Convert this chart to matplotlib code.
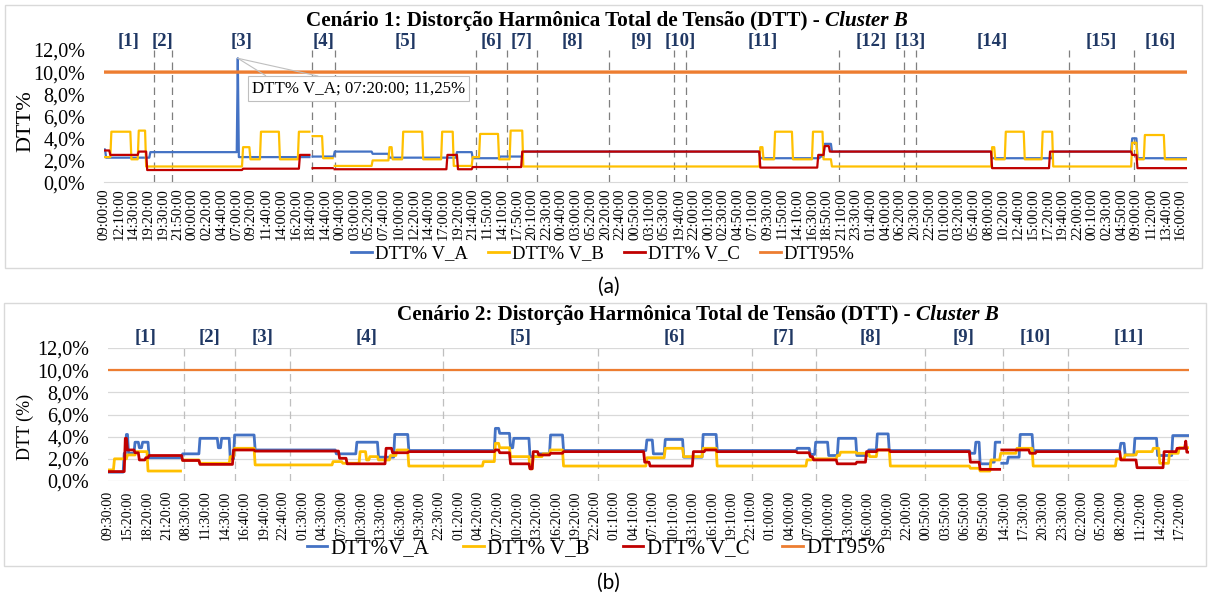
import numpy as np
import matplotlib
matplotlib.use('Agg')
import matplotlib.pyplot as plt
from matplotlib.ticker import FuncFormatter
from matplotlib.patches import Rectangle
from matplotlib.lines import Line2D
from matplotlib.transforms import blended_transform_factory

plt.rcParams['font.family'] = ['Liberation Serif', 'DejaVu Serif']

nan = np.nan

# ---------------- Cenário 1 (amostras de 10 min, degraus)
n1 = 1029
va1_ini = [0, 2, 44, 127, 128, 196, 198, 219, 255, 271, 335, 350, 376, 398, 623, 680, 684, 691, 843, 901, 976, 981]
va1_val = [3.0, 2.25, 2.75, 11.25, 2.3, nan, 2.35, 2.8, 2.6, 2.25, 2.75, 2.2, 2.35, 2.8, 2.2, 2.35, 3.5, 2.8, 2.2, 2.8, 4.0, 2.2]
vb1_ini = [0, 7, 26, 33, 40, 132, 139, 149, 167, 185, 196, 198, 208, 218, 219, 255, 271, 274, 284, 303, 321, 332,
           350, 357, 375, 386, 398, 623, 626, 637, 654, 673, 683, 691, 843, 846, 856, 874, 891, 901, 976, 981, 988, 1007]
vb1_val = [2.3, 4.6, 2.1, 4.7, 1.45, 3.2, 2.1, 4.6, 2.1, 4.6, nan, 4.2, 2.2, nan, 1.5, 2.0, 3.2, 2.1, 4.6, 2.1, 4.6, 1.5,
           2.3, 4.4, 2.1, 4.7, 1.45, 3.2, 2.1, 4.6, 2.1, 4.6, 2.1, 1.45, 3.2, 2.1, 4.6, 2.1, 4.6, 1.45, 3.6, 2.1, 4.3, 2.1]
vc1_ini = [0, 6, 33, 41, 132, 186, 196, 198, 218, 219, 326, 336, 350, 397, 623, 678, 684, 689, 843, 898, 976, 981]
vc1_val = [2.9, 2.5, 2.8, 1.13, 1.25, 2.5, nan, 1.3, nan, 1.2, 2.5, 1.2, 1.4, 2.8, 1.35, 2.5, 3.3, 2.8, 1.3, 2.8, 2.5, 1.3]
sec1 = [47.5, 64.5, 197.4, 219.3, 353, 382.5, 411, 479.3, 541, 552.4, 697.6, 759.3, 770.7, 915.9, 977.6]
ticks1 = ["09:00:00", "12:10:00", "14:30:00", "19:20:00", "19:30:00", "21:50:00", "00:00:00", "02:20:00", "04:40:00",
          "07:00:00", "09:20:00", "11:40:00", "14:00:00", "16:20:00", "18:40:00", "14:40:00", "00:40:00", "03:00:00",
          "05:20:00", "07:40:00", "10:00:00", "12:20:00", "14:40:00", "17:00:00", "19:20:00", "21:40:00", "11:50:00",
          "14:10:00", "17:50:00", "20:10:00", "22:30:00", "00:40:00", "03:00:00", "05:20:00", "20:20:00", "22:40:00",
          "00:50:00", "03:10:00", "05:30:00", "19:40:00", "22:00:00", "00:10:00", "02:30:00", "04:50:00", "07:10:00",
          "09:30:00", "11:50:00", "14:10:00", "16:30:00", "18:50:00", "21:10:00", "23:30:00", "01:40:00", "04:00:00",
          "06:20:00", "20:30:00", "22:50:00", "01:00:00", "03:20:00", "05:40:00", "08:00:00", "10:20:00", "12:40:00",
          "15:00:00", "17:20:00", "19:40:00", "22:00:00", "00:10:00", "02:30:00", "04:50:00", "09:00:00", "11:20:00",
          "13:40:00", "16:00:00"]
pico_idx = 127
pico_txt = "DTT% V_A; 07:20:00; 11,25%"

# ---------------- Cenário 2
n2 = 1000
va2_ini = [0, 15, 17, 19, 25, 29, 32, 38, 69, 85, 102, 105, 113, 117, 136, 211, 230, 250, 265, 278, 358, 362, 372, 375,
           390, 398, 409, 421, 498, 504, 515, 532, 550, 563, 637, 649, 654, 666, 675, 692, 703, 711, 722, 797, 802, 806,
           816, 820, 825, 826, 832, 843, 855, 936, 940, 949, 970, 984]
va2_val = [0.8, 2.5, 4.2, 2.5, 3.5, 3.0, 3.5, 2.1, 2.45, 3.85, 3.0, 3.85, 2.0, 4.15, 2.8, 2.45, 3.5, 2.15, 4.2, 2.75,
           4.75, 4.3, 3.0, 3.85, 2.2, 2.45, 4.15, 2.75, 3.7, 2.45, 3.75, 2.15, 4.2, 2.75, 2.95, 2.4, 3.5, 2.3, 3.85, 2.3,
           2.8, 4.25, 2.75, 2.5, 3.5, 1.55, 1.7, 3.5, nan, 1.6, 2.15, 4.2, 2.75, 3.4, 2.35, 3.85, 2.3, 4.1]
vb2_ini = [0, 6, 18, 26, 37, 68, 69, 85, 113, 117, 136, 208, 217, 233, 239, 242, 250, 261, 267, 278, 347, 358, 362, 372,
           390, 393, 402, 409, 421, 498, 515, 532, 550, 563, 646, 651, 674, 677, 692, 704, 711, 723, 797, 806, 816, 825,
           840, 855, 932, 940, 951, 966, 972, 981, 990]
vb2_val = [1.0, 2.0, 2.35, 2.65, 0.9, nan, 1.9, 1.6, 2.2, 2.95, 1.45, 1.75, 1.6, 2.65, 1.9, 2.2, 1.9, 2.3, 2.8, 1.35,
           1.75, 3.4, 3.0, 2.2, 1.1, 2.2, 2.45, 2.8, 1.35, 2.1, 2.95, 2.2, 2.95, 1.35, 1.9, 2.0, 2.3, 2.6, 2.5, 2.2,
           2.8, 1.35, 1.15, 0.9, 1.9, 2.5, 2.95, 1.35, 2.0, 2.35, 2.65, 2.95, 1.6, 2.5, 3.0]
vc2_ini = [0, 16, 18, 25, 29, 35, 38, 69, 85, 116, 136, 214, 221, 257, 263, 278, 358, 362, 372, 390, 393, 398, 409, 421,
           496, 501, 541, 552, 563, 637, 649, 652, 674, 692, 701, 711, 723, 797, 806, 825, 826, 852, 858, 936, 951, 976,
           988, 996, 997]
vc2_val = [0.85, 3.85, 2.8, 2.55, 1.9, 2.1, 2.3, 1.85, 1.5, 2.8, 2.7, 2.05, 1.55, 2.95, 2.55, 2.65, 2.8, 2.55, 1.55, 1.1,
           2.65, 2.35, 2.5, 2.65, 1.7, 1.35, 2.65, 2.8, 2.65, 2.55, 2.2, 1.9, 1.55, 1.7, 2.65, 2.8, 2.65, 1.7, 1.05, nan,
           2.8, 2.5, 2.65, 1.9, 1.2, 2.65, 2.95, 3.6, 2.6]
sec2 = [70, 117, 168, 310, 453, 595, 654, 755, 827, 887]
ticks2 = ["09:30:00", "15:20:00", "18:20:00", "21:20:00", "08:30:00", "11:30:00", "14:30:00", "16:40:00", "19:40:00",
          "22:40:00", "01:30:00", "04:30:00", "07:30:00", "10:30:00", "13:30:00", "16:30:00", "19:30:00", "22:30:00",
          "01:20:00", "04:20:00", "07:20:00", "10:20:00", "13:20:00", "16:20:00", "19:20:00", "22:20:00", "01:10:00",
          "04:10:00", "07:10:00", "10:10:00", "13:10:00", "16:10:00", "19:10:00", "22:10:00", "01:00:00", "04:00:00",
          "07:00:00", "10:00:00", "13:00:00", "16:00:00", "19:00:00", "22:00:00", "00:50:00", "03:50:00", "06:50:00",
          "09:50:00", "14:30:00", "17:30:00", "20:30:00", "23:30:00", "02:20:00", "05:20:00", "08:20:00", "11:20:00",
          "14:20:00", "17:20:00"]

limite = 10.0  # DTT95%

AZUL, AMARELO, VERMELHO, LARANJA = '#4472C4', '#FFC000', '#C00000', '#ED7D31'
NAVY = '#203864'


def degraus(ini, val, n):
    y = np.full(n, np.nan)
    fim = list(ini[1:]) + [n]
    for a, b, v in zip(ini, fim, val):
        y[a:b] = v
    return y


W, H = 1209, 601
fig = plt.figure(figsize=(W / 100, H / 100), dpi=100)
fmt = FuncFormatter(lambda v, p: f"{v:.1f}%".replace('.', ','))


def painel(rect, n, series, lw, lw95, ticks, passo, sec, cor_sec, grade, tam_tick, pad_x, y_sec):
    ax = fig.add_axes([rect[0] / W, 1 - rect[3] / H, (rect[2] - rect[0]) / W, (rect[3] - rect[1]) / H])
    x = np.arange(n)
    for b in sec:
        ax.axvline(b, color=cor_sec, lw=0.9, ls=(0, (6, 4)), zorder=1)
    for y, c in series:
        ax.plot(x, y, color=c, lw=lw, zorder=3)
    ax.plot(x, np.full(n, limite), color=LARANJA, lw=lw95, zorder=3)
    ax.set_xlim(0, n - 1)
    ax.set_ylim(0, 12)
    ax.set_yticks(np.arange(0, 13, 2))
    ax.yaxis.set_major_formatter(fmt)
    ax.set_xticks(np.arange(len(ticks)) * passo)
    ax.set_xticklabels(ticks, rotation=90, fontsize=tam_tick)
    ax.tick_params(axis='y', length=0, pad=13.5, labelsize=14.5)
    ax.tick_params(axis='x', length=0, pad=pad_x)
    for s in ax.spines.values():
        s.set_visible(False)
    if grade:
        ax.grid(axis='y', color='#D9D9D9', lw=0.9)
        ax.set_axisbelow(True)
    else:
        ax.spines['bottom'].set_visible(True)
        ax.spines['bottom'].set_color('#D9D9D9')
    lim = [0] + list(sec) + [n - 1]
    tr = blended_transform_factory(ax.transData, ax.transAxes)
    for i in range(len(lim) - 1):
        ax.text((lim[i] + lim[i + 1]) / 2, y_sec, f"[{i + 1}]", transform=tr, ha='center', va='center',
                fontsize=13.5, fontweight='bold', color=NAVY)
    return ax


ax1 = painel((104, 50, 1187, 182.5), n1,
             [(degraus(va1_ini, va1_val, n1), AZUL), (degraus(vb1_ini, vb1_val, n1), AMARELO),
              (degraus(vc1_ini, vc1_val, n1), VERMELHO)],
             1.6, 2.4, ticks1, 14, sec1, '#7F7F7F', False, 10.5, 4, 1.065)
ax2 = painel((108, 348, 1189, 481), n2,
             [(degraus(va2_ini, va2_val, n2), AZUL), (degraus(vb2_ini, vb2_val, n2), AMARELO),
              (degraus(vc2_ini, vc2_val, n2), VERMELHO)],
             2.0, 1.6, ticks2, 18, sec2, '#BFBFBF', True, 10, 7, 1.08)

# rótulo do pico (caixa + duas linhas de chamada)
xy_pico = (pico_idx, va1_val[va1_ini.index(pico_idx)])
for k, rp in enumerate([(0.1, 1.0), (0.4, 1.0)]):
    ax1.annotate(pico_txt, xy=xy_pico, xytext=(14, -30), textcoords='offset pixels', ha='left', va='center',
                 fontsize=12.2, color='black' if k == 0 else 'none',
                 bbox=dict(boxstyle='square,pad=0.25', fc='white' if k == 0 else 'none',
                           ec='#BFBFBF' if k == 0 else 'none', lw=0.8),
                 arrowprops=dict(arrowstyle='-', color='#BFBFBF', lw=0.8, relpos=rp, shrinkA=0, shrinkB=0),
                 zorder=5)

# legendas
h1 = [Line2D([], [], color=c, lw=2) for c in (AZUL, AMARELO, VERMELHO, LARANJA)]
fig.legend(h1, ['DTT% V_A', 'DTT% V_B', 'DTT% V_C', 'DTT95%'], loc='center', bbox_to_anchor=(603 / W, 1 - 254 / H),
           ncol=4, frameon=False, fontsize=13.5, handlelength=1.1, handletextpad=0.15, columnspacing=1.1)
fig.legend(h1, ['DTT%V_A', 'DTT% V_B', 'DTT% V_C', 'DTT95%'], loc='center', bbox_to_anchor=(596 / W, 1 - 548 / H),
           ncol=4, frameon=False, fontsize=15, handlelength=1.0, handletextpad=0.15, columnspacing=1.6)

# títulos
fig.canvas.draw()
for x0, yb, txt in [(306, 26, 'Cenário 1: Distorção Harmônica Total de Tensão (DTT) -'),
                    (397, 320, 'Cenário 2: Distorção Harmônica Total de Tensão (DTT) -')]:
    t = fig.text(x0 / W, 1 - yb / H, txt, fontsize=15.2, fontweight='bold', ha='left', va='baseline')
    bb = t.get_window_extent(renderer=fig.canvas.get_renderer())
    fig.text((bb.x1 + 5) / W, 1 - yb / H, 'Cluster B', fontsize=15.2, fontweight='bold', fontstyle='italic',
             ha='left', va='baseline')

fig.text(26 / W, 1 - 121 / H, 'DTT%', rotation=90, fontsize=16, ha='center', va='center')
fig.text(25 / W, 1 - 427 / H, 'DTT (%)', rotation=90, fontsize=13, ha='center', va='center')
fig.text(609 / W, 1 - 287 / H, '(a)', family=['Lato', 'DejaVu Sans'], fontsize=15, ha='center', va='center')
fig.text(608 / W, 1 - 583 / H, '(b)', family=['Lato', 'DejaVu Sans'], fontsize=15, ha='center', va='center')

# molduras dos gráficos
for x0, y0, x1, y1 in [(5, 5, 1202, 268), (4, 303, 1206, 566)]:
    fig.add_artist(Rectangle((x0 / W, 1 - y1 / H), (x1 - x0) / W, (y1 - y0) / H, transform=fig.transFigure,
                             fill=False, ec='#D9D9D9', lw=1))

fig.savefig('out.png', dpi=100)
